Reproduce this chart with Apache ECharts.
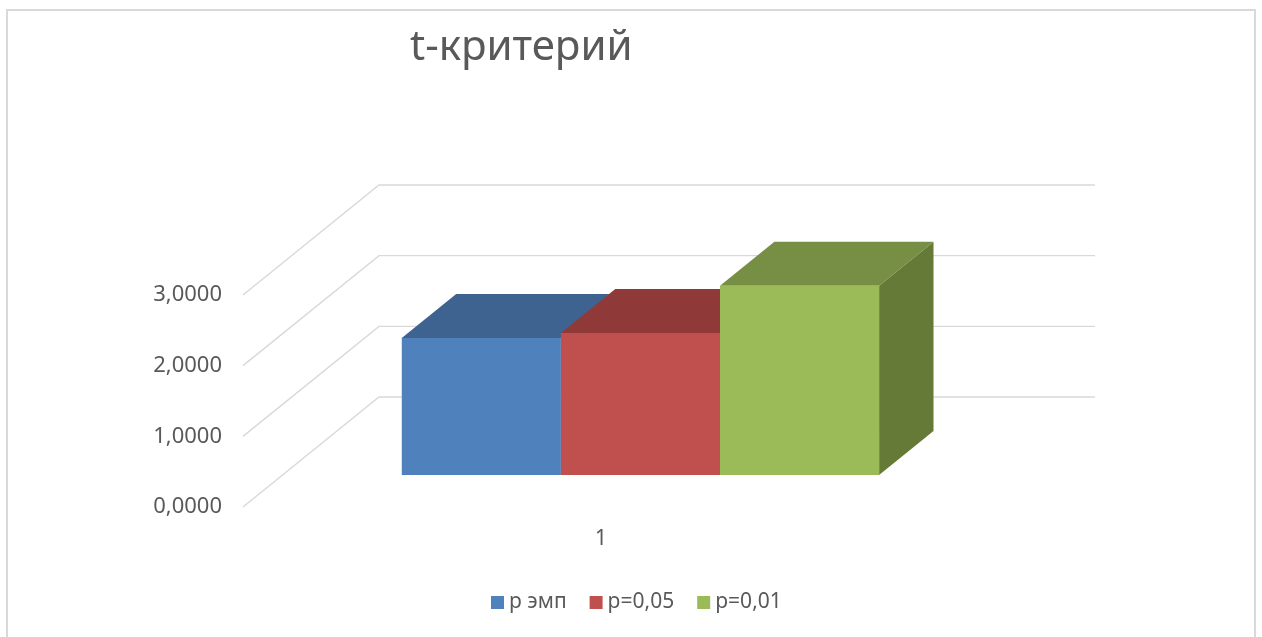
<!DOCTYPE html>
<html>
<head>
<meta charset="utf-8">
<style>
  html, body { margin: 0; padding: 0; background: #ffffff; }
  #chart { width: 1262px; height: 637px; }
</style>
<script src="https://cdn.jsdelivr.net/npm/echarts@6/dist/echarts.min.js"></script>
</head>
<body>
<div id="chart"></div>
<script>
// Chart data
const categories = ['1'];
const seriesNames = ['p эмп', 'p=0,05', 'p=0,01'];
const tEmp = [1.94];
const tP005 = [2.01];
const tP001 = [2.68];
const yTicks = [0, 1, 2, 3];

// Face colours: front, top, side
const palette = [
  { front: '#4F81BD', top: '#3E6391', side: '#355683' },
  { front: '#C0504D', top: '#8F3A38', side: '#7F3230' },
  { front: '#9BBB59', top: '#778E45', side: '#657A36' }
];

// Oblique projection of the depth axis (full depth of the floor, in px)
const DEPTH_X = 136;
const DEPTH_Y = -110;
// Bars occupy this slice of the depth
const BAR_D0 = 0.29;
const BAR_D1 = 0.69;
// Excel-like gap width (150 % of a bar)
const GAP_RATIO = 1.5;

const TEXT = '#595959';
const FONT = 'Noto Sans';

function fmt(v) {
  return v.toFixed(4).replace('.', ',');
}

function barRenderer(idx, count) {
  return function (params, api) {
    const band = api.size([1, 0])[0];
    const bw = band / (count + GAP_RATIO);
    const base = api.coord([api.value(0), 0]);
    const topP = api.coord([api.value(0), api.value(1)]);
    const ox = DEPTH_X * BAR_D0, oy = DEPTH_Y * BAR_D0;
    const ddx = DEPTH_X * (BAR_D1 - BAR_D0), ddy = DEPTH_Y * (BAR_D1 - BAR_D0);
    const x0 = base[0] - bw * count / 2 + idx * bw + ox;
    const x1 = x0 + bw;
    const yb = base[1] + oy;
    const yt = topP[1] + oy;
    const c = palette[idx];
    return {
      type: 'group',
      children: [
        {
          type: 'polygon',
          shape: { points: [[x1, yt], [x1 + ddx, yt + ddy], [x1 + ddx, yb + ddy], [x1, yb]] },
          style: { fill: c.side }
        },
        {
          type: 'polygon',
          shape: { points: [[x0, yt], [x1, yt], [x1 + ddx, yt + ddy], [x0 + ddx, yt + ddy]] },
          style: { fill: c.top }
        },
        {
          type: 'rect',
          shape: { x: x0, y: yt, width: bw, height: yb - yt },
          style: { fill: c.front }
        }
      ]
    };
  };
}

function gridRenderer(params, api) {
  const band = api.size([1, 0])[0];
  const p = api.coord([0, api.value(1)]);
  const left = p[0] - band / 2;
  const right = p[0] + band / 2;
  return {
    type: 'polyline',
    shape: {
      points: [
        [left, p[1]],
        [left + DEPTH_X, p[1] + DEPTH_Y],
        [right + DEPTH_X, p[1] + DEPTH_Y]
      ]
    },
    style: { stroke: '#D9D9D9', lineWidth: 1.4, fill: null }
  };
}

const barValues = [tEmp, tP005, tP001];

const series = [
  {
    type: 'custom',
    name: 'grid',
    silent: true,
    z: 1,
    renderItem: gridRenderer,
    data: yTicks.map(v => [0, v])
  }
];
barValues.forEach((vals, i) => {
  series.push({
    type: 'custom',
    name: seriesNames[i],
    z: 2 + i,
    itemStyle: { color: palette[i].front },
    renderItem: barRenderer(i, barValues.length),
    data: vals.map((v, k) => [k, v])
  });
});

const chart = echarts.init(document.getElementById('chart'), null, { renderer: 'canvas' });
chart.setOption({
  backgroundColor: '#ffffff',
  animation: false,
  textStyle: { fontFamily: FONT },
  title: {
    text: 't-критерий',
    left: 405,
    top: 22,
    textStyle: { fontFamily: FONT, fontSize: 42, fontWeight: 'normal', color: TEXT }
  },
  legend: {
    data: seriesNames,
    left: 486,
    top: 587,
    icon: 'rect',
    itemWidth: 13,
    itemHeight: 13,
    itemGap: 23,
    textStyle: { fontFamily: FONT, fontSize: 21, color: TEXT }
  },
  grid: { left: 243, right: 303, top: 295, bottom: 130, containLabel: false },
  xAxis: {
    type: 'category',
    data: categories,
    axisLine: { show: false },
    axisTick: { show: false },
    splitLine: { show: false },
    axisLabel: { color: TEXT, fontSize: 21, fontFamily: FONT, margin: 22 }
  },
  yAxis: {
    type: 'value',
    min: 0,
    max: 3,
    interval: 1,
    axisLine: { show: false },
    axisTick: { show: false },
    splitLine: { show: false },
    axisLabel: { color: TEXT, fontSize: 22, fontFamily: FONT, margin: 21, formatter: fmt }
  },
  graphic: [
    {
      type: 'rect',
      z: -10,
      silent: true,
      shape: { x: 7, y: 10, width: 1248, height: 700 },
      style: { fill: null, stroke: '#D9D9D9', lineWidth: 2 }
    }
  ],
  series: series
});
</script>
</body>
</html>
